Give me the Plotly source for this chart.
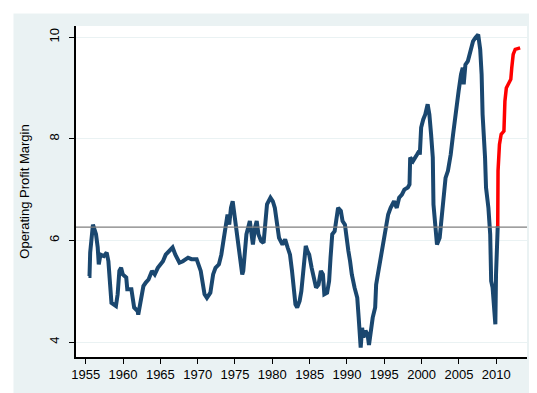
import plotly.graph_objects as go

# Blue series (historical operating profit margin)
blue_years = [1955.37, 1955.51, 1955.60, 1955.97, 1956.38, 1956.61, 1956.75, 1956.98, 1957.44, 1957.81,
              1958.04, 1958.22, 1958.45, 1959.05, 1959.28, 1959.51, 1959.74, 1959.97, 1960.43, 1960.57,
              1961.12, 1961.49, 1961.95, 1962.04, 1962.41, 1962.73, 1963.05, 1963.42, 1963.88, 1964.25,
              1964.66, 1965.03, 1965.35, 1965.72, 1966.18, 1966.64, 1967.01, 1967.56, 1968.02, 1968.71,
              1969.17, 1969.86, 1970.41, 1970.69, 1970.92, 1971.24, 1971.70, 1972.07, 1972.39, 1972.85,
              1973.17, 1973.45, 1973.68, 1974.00, 1974.23, 1974.46, 1974.69, 1974.92, 1975.10, 1975.38,
              1975.75, 1975.97, 1976.11, 1976.39, 1976.53, 1976.76, 1976.99, 1977.22, 1977.40, 1977.68,
              1977.91, 1978.14, 1978.50, 1978.83, 1979.06, 1979.29, 1979.75, 1980.07, 1980.34, 1980.67,
              1980.90, 1981.36, 1981.72, 1982.05, 1982.37, 1982.64, 1982.87, 1983.10, 1983.33, 1983.66,
              1983.89, 1984.21, 1984.48, 1984.71, 1984.94, 1985.27, 1985.50, 1985.86, 1986.19, 1986.51,
              1986.78, 1986.97, 1987.34, 1987.61, 1987.80, 1988.03, 1988.35, 1988.58, 1988.81, 1989.18,
              1989.41, 1989.73, 1989.96, 1990.19, 1990.42, 1990.65, 1991.02, 1991.38, 1991.57, 1991.71,
              1991.84, 1992.03, 1992.21, 1992.49, 1992.76, 1992.95, 1993.22, 1993.45, 1993.78, 1993.91,
              1994.14, 1994.37, 1994.60, 1994.83, 1995.02, 1995.29, 1995.52, 1995.85, 1996.31, 1996.67,
              1996.99, 1997.36, 1997.69, 1998.15, 1998.38, 1998.47, 1998.84, 1999.39, 1999.67, 1999.76,
              1999.94, 2000.22, 2000.49, 2000.81, 2001.04, 2001.27, 2001.50, 2001.59, 2001.78, 2001.87,
              2002.06, 2002.42, 2002.61, 2002.88, 2003.21, 2003.53, 2003.90, 2004.22, 2004.50, 2004.73,
              2004.96, 2005.28, 2005.51, 2005.64, 2005.87, 2006.20, 2006.56, 2006.89, 2007.21, 2007.58,
              2007.85, 2008.04, 2008.17, 2008.36, 2008.50, 2008.63, 2008.95, 2009.19, 2009.32, 2009.51,
              2009.69, 2009.88, 2009.97, 2010.11, 2010.20]
blue_values = [5.30, 5.30, 5.76, 6.31, 6.12, 5.86, 5.53, 5.72, 5.69, 5.76,
               5.59, 5.10, 4.77, 4.71, 4.94, 5.40, 5.46, 5.33, 5.27, 5.04,
               5.04, 4.68, 4.61, 4.54, 4.87, 5.10, 5.17, 5.23, 5.40, 5.33,
               5.46, 5.53, 5.59, 5.72, 5.79, 5.86, 5.72, 5.56, 5.59, 5.66,
               5.63, 5.63, 5.40, 5.20, 4.94, 4.87, 4.97, 5.33, 5.46, 5.53,
               5.72, 5.99, 6.25, 6.51, 6.31, 6.64, 6.77, 6.51, 6.25, 5.86,
               5.46, 5.33, 5.40, 5.79, 6.12, 6.25, 6.38, 6.12, 5.92, 6.25,
               6.38, 6.12, 5.99, 5.95, 6.25, 6.71, 6.84, 6.77, 6.64, 6.31,
               6.05, 5.92, 6.02, 5.86, 5.72, 5.40, 4.94, 4.74, 4.68, 4.81,
               5.00, 5.46, 5.89, 5.79, 5.72, 5.46, 5.33, 5.07, 5.13, 5.40,
               5.33, 4.94, 4.97, 5.20, 5.66, 6.12, 6.18, 6.38, 6.64, 6.58,
               6.38, 6.31, 5.99, 5.79, 5.59, 5.33, 5.07, 4.87, 4.48, 4.22,
               3.89, 4.28, 4.09, 4.22, 4.15, 3.94, 4.28, 4.48, 4.68, 5.13,
               5.33, 5.53, 5.72, 5.92, 6.12, 6.31, 6.51, 6.64, 6.77, 6.64,
               6.84, 6.90, 7.00, 7.04, 7.10, 7.63, 7.56, 7.69, 7.76, 7.69,
               8.22, 8.38, 8.48, 8.68, 8.48, 8.09, 7.63, 6.71, 6.38, 6.05,
               5.92, 6.05, 6.38, 6.84, 7.23, 7.37, 7.69, 8.09, 8.48, 8.68,
               8.94, 9.27, 9.40, 9.07, 9.46, 9.53, 9.72, 9.92, 9.99, 10.05,
               9.76, 9.27, 8.48, 8.09, 7.63, 7.04, 6.64, 6.12, 5.20, 5.07,
               4.68, 4.35, 5.33, 5.99, 6.28]

# Red series (recent period)
red_years = [2010.20, 2010.24, 2010.43, 2010.66, 2011.03, 2011.16, 2011.35, 2011.72, 2011.95,
             2012.08, 2012.27, 2012.54, 2013.20]
red_values = [6.28, 7.37, 7.89, 8.09, 8.15, 8.74, 9.00, 9.13, 9.17,
              9.40, 9.66, 9.76, 9.79]

# Long-run average reference line
mean_value = 6.26

x_ticks = [1955, 1960, 1965, 1970, 1975, 1980, 1985, 1990, 1995, 2000, 2005, 2010]
y_ticks = [4, 6, 8, 10]

font_family = "Liberation Sans, Arial, sans-serif"

fig = go.Figure()
fig.add_trace(go.Scatter(x=blue_years, y=blue_values, mode="lines",
                         line=dict(color="#1A476F", width=4), showlegend=False,
                         hoverinfo="skip"))
fig.add_trace(go.Scatter(x=red_years, y=red_values, mode="lines",
                         line=dict(color="#FF0000", width=3.5), showlegend=False,
                         hoverinfo="skip"))

fig.add_shape(type="line", xref="paper", yref="y", x0=0, x1=1, y0=mean_value, y1=mean_value,
              line=dict(color="#7F7F7F", width=1.2), layer="above")

# white outer frame around the light graph region
fig.add_shape(type="rect", xref="paper", yref="paper",
              x0=-0.1508, x1=1.0399, y0=-0.1329, y1=1.0544,
              line=dict(color="#FFFFFF", width=11), fillcolor="rgba(0,0,0,0)", layer="below")

fig.update_layout(
    width=537, height=393,
    margin=dict(l=68, r=18, t=18, b=44),
    paper_bgcolor="#EAF2F3",
    plot_bgcolor="#FFFFFF",
    font=dict(family=font_family, size=13, color="#000000"),
)
fig.update_xaxes(range=[1953.70, 2014.12], tickvals=x_ticks, ticktext=[str(t) for t in x_ticks],
                 showgrid=False, zeroline=False, showline=True, linecolor="#000000", linewidth=1.5,
                 ticks="outside", ticklen=5, tickwidth=1, tickcolor="#000000",
                 tickfont=dict(size=13, color="#000000"))
fig.update_yaxes(range=[3.705, 10.22], tickvals=y_ticks, ticktext=[str(t) for t in y_ticks],
                 showgrid=True, gridcolor="#EAF2F3", gridwidth=1, zeroline=False,
                 showline=True, linecolor="#000000", linewidth=1.5,
                 ticks="outside", ticklen=5, tickwidth=1, tickcolor="#000000", tickangle=-90,
                 ticklabelstandoff=5,
                 tickfont=dict(size=13, color="#000000"),
                 title=dict(text="Operating Profit Margin", font=dict(size=13, color="#000000"),
                            standoff=14))

fig.write_html("out.html")
